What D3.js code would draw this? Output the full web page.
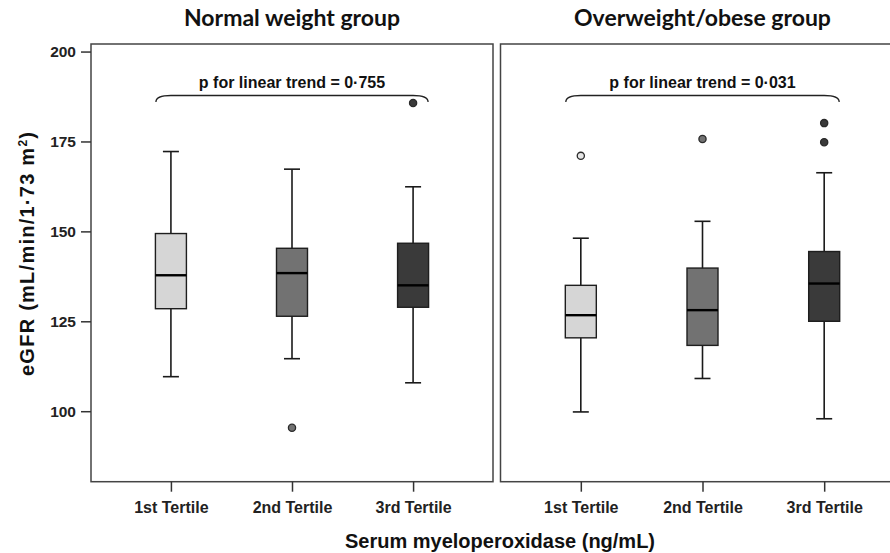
<!DOCTYPE html>
<html lang="en">
  <head>
    <meta charset="utf-8">
    <title>eGFR by serum myeloperoxidase tertile</title>
    <script type="text/javascript" src="https://cdn.jsdelivr.net/npm/d3@7"></script>
    <style>
    body { margin: 0; background: #fff; }
    svg { display: block; }
    </style>
  </head>
  <body>
    <script type="text/javascript">
      // data
      var tertiles = ["1st Tertile", "2nd Tertile", "3rd Tertile"];
      var groups = ["Normal weight group", "Overweight/obese group"];
      var pTexts = ["p for linear trend = 0\u00b7755", "p for linear trend = 0\u00b7031"];
      var yTicks = [100, 125, 150, 175, 200];

      // [lower whisker, Q1, median, Q3, upper whisker] per tertile
      var normalStats = [
        [109.6, 128.5, 137.8, 149.4, 172.2],
        [114.6, 126.4, 138.4, 145.3, 167.3],
        [107.9, 128.9, 135.0, 146.7, 162.4]
      ];
      var normalOutliers = [[], [95.4], [185.7]];

      var obeseStats = [
        [99.8, 120.4, 126.7, 135.0, 148.1],
        [109.1, 118.3, 128.1, 139.8, 152.8],
        [97.9, 125.0, 135.5, 144.4, 166.3]
      ];
      var obeseOutliers = [[171.0], [175.7], [180.1, 174.8]];

      var fills = ["#d6d6d6", "#727272", "#3a3a3a"];

      var w = 890, h = 553;
      var font = "Liberation Sans, Arial, sans-serif";
      var svg = d3.select("body").append("svg")
                  .attr("width", w)
                  .attr("height", h);

      var y = d3.scaleLinear().domain([80.4, 202.1]).range([481.7, 44]);

      var panels = [
        {x0: 91, x1: 493, stats: normalStats, outliers: normalOutliers, title: groups[0], p: pTexts[0], axis: true},
        {x0: 500.5, x1: 904.5, stats: obeseStats, outliers: obeseOutliers, title: groups[1], p: pTexts[1], axis: false}
      ];

      panels.forEach(function(pn) {
        var x = d3.scalePoint().domain(tertiles).range([pn.x0, pn.x1]).padding(0.66);
        var g = svg.append("g");

        // frame
        g.append("rect")
         .attr("x", pn.x0).attr("y", y.range()[1])
         .attr("width", pn.x1 - pn.x0).attr("height", y.range()[0] - y.range()[1])
         .attr("fill", "none").attr("stroke", "#444").attr("stroke-width", 1.5);

        // x axis
        var xAxis = g.append("g")
         .attr("transform", "translate(0," + y.range()[0] + ")")
         .call(d3.axisBottom(x).tickSize(10).tickSizeOuter(0));
        xAxis.select(".domain").remove();
        xAxis.selectAll("line").attr("stroke", "#333").attr("stroke-width", 1.5);
        xAxis.selectAll("text")
         .attr("y", 31.5)
         .attr("dy", 0)
         .attr("font-family", font)
         .attr("font-weight", "bold")
         .attr("font-size", "16px")
         .attr("fill", "#222");

        if (pn.axis) {
          var yAxis = g.append("g")
           .attr("transform", "translate(" + pn.x0 + ",0)")
           .call(d3.axisLeft(y).tickValues(yTicks).tickSize(10).tickSizeOuter(0));
          yAxis.select(".domain").remove();
          yAxis.selectAll("line").attr("stroke", "#333").attr("stroke-width", 1.5);
          yAxis.selectAll("text")
           .attr("x", -15)
           .attr("font-family", font)
           .attr("font-weight", "bold")
           .attr("font-size", "15.5px")
           .attr("fill", "#222");
        }

        // title
        svg.append("text")
           .attr("x", x(tertiles[1]))
           .attr("y", 26)
           .attr("text-anchor", "middle")
           .attr("font-family", "Lato, sans-serif")
           .attr("font-weight", "bold")
           .attr("font-size", "23px")
           .attr("fill", "#111")
           .text(pn.title);

        // boxes
        var boxW = 31, capW = 16;
        var box = g.selectAll("g.box")
           .data(pn.stats)
           .enter()
           .append("g")
           .attr("class", "box");

        box.append("line")
           .attr("x1", function(d, i) { return x(tertiles[i]); })
           .attr("x2", function(d, i) { return x(tertiles[i]); })
           .attr("y1", function(d) { return y(d[0]); })
           .attr("y2", function(d) { return y(d[4]); })
           .attr("stroke", "#1a1a1a").attr("stroke-width", 1.6);
        [0, 4].forEach(function(k) {
          box.append("line")
             .attr("x1", function(d, i) { return x(tertiles[i]) - capW / 2; })
             .attr("x2", function(d, i) { return x(tertiles[i]) + capW / 2; })
             .attr("y1", function(d) { return y(d[k]); })
             .attr("y2", function(d) { return y(d[k]); })
             .attr("stroke", "#1a1a1a").attr("stroke-width", 1.6);
        });
        box.append("rect")
           .attr("x", function(d, i) { return x(tertiles[i]) - boxW / 2; })
           .attr("y", function(d) { return y(d[3]); })
           .attr("width", boxW)
           .attr("height", function(d) { return y(d[1]) - y(d[3]); })
           .attr("fill", function(d, i) { return fills[i]; })
           .attr("stroke", "#1e1e1e").attr("stroke-width", 1.4);
        box.append("line")
           .attr("x1", function(d, i) { return x(tertiles[i]) - boxW / 2; })
           .attr("x2", function(d, i) { return x(tertiles[i]) + boxW / 2; })
           .attr("y1", function(d) { return y(d[2]); })
           .attr("y2", function(d) { return y(d[2]); })
           .attr("stroke", "#000").attr("stroke-width", 2.4);

        // outliers
        var pts = [];
        pn.outliers.forEach(function(arr, i) {
          arr.forEach(function(v) { pts.push({t: i, v: v}); });
        });
        g.selectAll("circle")
         .data(pts)
         .enter()
         .append("circle")
         .attr("cx", function(d) { return x(tertiles[d.t]); })
         .attr("cy", function(d) { return y(d.v); })
         .attr("r", 3.6)
         .attr("fill", function(d) { return d.t === 0 ? "#e6e6e6" : fills[d.t]; })
         .attr("stroke", "#2a2a2a").attr("stroke-width", 1.3);

        // brace over the three tertiles
        var bx0 = x(tertiles[0]) - 15, bx1 = x(tertiles[2]) + 15, by = 95.5;
        g.append("path")
         .attr("d", "M" + bx0 + "," + (by + 6.5) +
                    " Q" + bx0 + "," + by + " " + (bx0 + 15) + "," + by +
                    " L" + (bx1 - 15) + "," + by +
                    " Q" + bx1 + "," + by + " " + bx1 + "," + (by + 6.5))
         .attr("fill", "none").attr("stroke", "#222").attr("stroke-width", 1.3);

        g.append("text")
         .attr("x", x(tertiles[1]))
         .attr("y", 87.5)
         .attr("text-anchor", "middle")
         .attr("font-family", font)
         .attr("font-weight", "bold")
         .attr("font-size", "16px")
         .attr("fill", "#111")
         .text(pn.p);
      });

      // axis titles
      var yLab = svg.append("text")
         .attr("transform", "translate(34,254) rotate(-90)")
         .attr("text-anchor", "middle")
         .attr("font-family", font)
         .attr("font-weight", "bold")
         .attr("font-size", "20px")
         .attr("fill", "#111")
         .attr("textLength", 244)
         .attr("lengthAdjust", "spacing");
      yLab.append("tspan").text("eGFR (mL/min/1\u00b773 m");
      yLab.append("tspan")
         .attr("baseline-shift", "super")
         .attr("font-size", "12px")
         .text("2");
      yLab.append("tspan").text(")");

      svg.append("text")
         .attr("x", 500)
         .attr("y", 547.5)
         .attr("text-anchor", "middle")
         .attr("font-family", font)
         .attr("font-weight", "bold")
         .attr("font-size", "20px")
         .attr("fill", "#111")
         .text("Serum myeloperoxidase (ng/mL)");
    </script>
  </body>
</html>
